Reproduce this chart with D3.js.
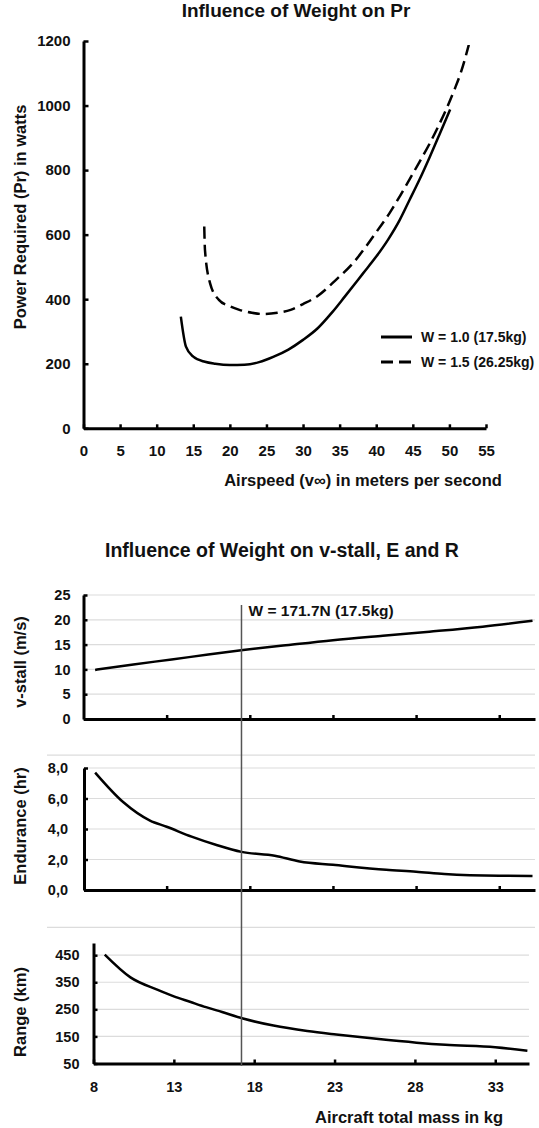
<!DOCTYPE html>
<html>
<head>
<meta charset="utf-8">
<script src="https://cdn.jsdelivr.net/npm/d3@7"></script>
<style>
body { margin: 0; background: #fff; }
svg text { font-family: "Liberation Sans", Arial, sans-serif; font-weight: bold; fill: #111; }
</style>
</head>
<body>
<div id="chart"></div>
<script>
// top chart: power required against airspeed, two weights
var speedLight = [13.3, 14, 15, 16.6, 18, 20, 22, 24, 26, 28, 30, 32, 34, 35.7, 38.2, 40, 41.6, 43.2, 44.5, 45.9, 47.3, 48.6, 50.1];
var powerLight = [346, 253, 222, 206, 200, 196, 197, 205, 222, 244, 274, 310, 360, 408, 480, 532, 584, 645, 705, 770, 840, 908, 988];
var speedHeavy = [16.5, 16.6, 17.3, 18.5, 20, 21.3, 23, 24.6, 26.5, 28.3, 30, 32, 34.5, 36.8, 38.6, 40.2, 41.8, 43.2, 44.5, 45.9, 47.3, 48.4, 49.6, 50.7, 51.6, 52.65];
var powerHeavy = [625, 552, 449, 398, 378, 367, 358, 354, 358, 367, 385, 410, 460, 511, 563, 614, 666, 718, 769, 825, 882, 932, 990, 1050, 1105, 1188];
var speedTicks = [0, 5, 10, 15, 20, 25, 30, 35, 40, 45, 50, 55];
var powerTicks = [0, 200, 400, 600, 800, 1000, 1200];
var legendNames = ["W = 1.0 (17.5kg)", "W = 1.5 (26.25kg)"];

// bottom charts: stall speed, endurance and range against mass
var massStall = [8.7, 11, 13.3, 15.5, 17.6, 20, 23, 26, 28.8, 32, 35];
var stallSpeed = [9.9, 11, 12, 13, 13.9, 14.8, 15.9, 16.8, 17.6, 18.6, 19.8];
var massEndurance = [8.7, 10.4, 12, 13, 14.5, 16, 17.5, 19.5, 21, 23, 26.2, 28, 29.7, 33, 35];
var endurance = [7.7, 5.75, 4.55, 4.15, 3.5, 2.95, 2.5, 2.25, 1.87, 1.65, 1.32, 1.2, 1.05, 0.93, 0.92];
var massRange = [8.7, 10.3, 12, 13, 14, 15, 16, 17.3, 19.2, 21.3, 23.1, 25.6, 28.1, 29.9, 33, 35];
var range = [452, 368, 322, 298, 278, 258, 240, 216, 190, 170, 157, 141, 127, 119, 110, 97];
var massTicks = [8, 13, 18, 23, 28, 33];
var stallTicks = [0, 5, 10, 15, 20, 25];
var enduranceTicks = [0, 2, 4, 6, 8];
var rangeTicks = [50, 150, 250, 350, 450];
var markMass = 17.5;
var markLabel = "W = 171.7N (17.5kg)";

var svg = d3.select("#chart").append("svg").attr("width", 539).attr("height", 1128);
svg.append("rect").attr("width", 539).attr("height", 1128).attr("fill", "#fff");

function styleAxis(g, size) {
    // thick black axis like the excel export
    g.attr("font-family", null).attr("font-size", null);
    g.select(".domain").attr("stroke", "#000").attr("stroke-width", 3);
    g.selectAll(".tick line").attr("stroke", "#000").attr("stroke-width", 2.5);
    g.selectAll(".tick text").style("font-size", size + "px").attr("fill", "#111");
}

function vtitle(text, x, y, size) {
    svg.append("text")
        .attr("transform", "translate(" + x + "," + y + ") rotate(-90)")
        .attr("text-anchor", "middle")
        .attr("dy", "0.35em")
        .style("font-size", size + "px")
        .text(text);
}

function grid(yscale, values, x0, x1) {
    svg.append("g").selectAll("line").data(values).enter().append("line")
        .attr("x1", x0).attr("x2", x1)
        .attr("y1", function(d) { return yscale(d); })
        .attr("y2", function(d) { return yscale(d); })
        .attr("stroke", "#dcdcdc").attr("stroke-width", 1.2);
}

function powerChart() {
    var x = d3.scaleLinear().domain([0, 55]).range([83.5, 486]);
    var y = d3.scaleLinear().domain([0, 1200]).range([428.3, 41]);

    svg.append("text").attr("x", 296).attr("y", 17).attr("text-anchor", "middle")
        .style("font-size", "19px").text("Influence of Weight on Pr");

    var line = d3.line()
        .x(function(d) { return x(d[0]); })
        .y(function(d) { return y(d[1]); })
        .curve(d3.curveMonotoneX);

    svg.append("path").datum(d3.zip(speedLight, powerLight))
        .attr("d", line).attr("fill", "none").attr("stroke", "#000").attr("stroke-width", 2.5);
    svg.append("path").datum(d3.zip(speedHeavy, powerHeavy))
        .attr("d", line).attr("fill", "none").attr("stroke", "#000").attr("stroke-width", 2.5)
        .attr("stroke-dasharray", "12,6");

    var gx = svg.append("g").attr("transform", "translate(0,428.3)")
        .call(d3.axisBottom(x).tickValues(speedTicks).tickSize(-4).tickSizeOuter(0).tickPadding(17));
    styleAxis(gx, 15);
    var gy = svg.append("g").attr("transform", "translate(83.5,0)")
        .call(d3.axisLeft(y).tickValues(powerTicks).tickSize(-5).tickSizeOuter(0).tickPadding(13)
            .tickFormat(d3.format("d")));
    styleAxis(gy, 15);

    svg.append("text").attr("x", 363).attr("y", 486).attr("text-anchor", "middle")
        .style("font-size", "16.5px").text("Airspeed (v\u221e) in meters per second");
    vtitle("Power Required (Pr) in watts", 20, 217, 16.5);

    // legend
    var leg = svg.append("g").selectAll("g").data(legendNames).enter().append("g")
        .attr("transform", function(d, i) { return "translate(381," + (337 + i * 25) + ")"; });
    leg.append("line").attr("x1", 0).attr("x2", 31)
        .attr("stroke", "#000").attr("stroke-width", 3)
        .attr("stroke-dasharray", function(d, i) { return i ? "12,6" : null; });
    leg.append("text").attr("x", 40).attr("dy", "0.35em").style("font-size", "14px")
        .text(function(d) { return d; });
}

function massCharts() {
    var comma = d3.formatLocale({decimal: ",", thousands: ".", grouping: [3], currency: ["", ""]}).format(".1f");
    var xb = d3.scaleLinear().domain([8, 35.15]).range([83.5, 535]);
    var xr = d3.scaleLinear().domain([8, 35.1]).range([93.5, 529]);
    var ys = d3.scaleLinear().domain([0, 25]).range([719, 595]);
    var ye = d3.scaleLinear().domain([0, 8]).range([890, 768]);
    var yr = d3.scaleLinear().domain([50, 495]).range([1063.5, 943]);

    svg.append("text").attr("x", 282).attr("y", 557).attr("text-anchor", "middle")
        .style("font-size", "19.5px").text("Influence of Weight on v-stall, E and R");

    // gridlines
    grid(ys, stallTicks.slice(1), 83.5, 535);
    grid(ye, enduranceTicks.slice(1), 84, 535);
    grid(ye, [8.85], 47, 535);
    grid(yr, rangeTicks.slice(1), 93.5, 529);
    grid(yr, [553], 47, 535);

    function curve(xs, yscale, xv, yv) {
        var line = d3.line()
            .x(function(d) { return xs(d[0]); })
            .y(function(d) { return yscale(d[1]); })
            .curve(d3.curveMonotoneX);
        svg.append("path").datum(d3.zip(xv, yv))
            .attr("d", line).attr("fill", "none").attr("stroke", "#000").attr("stroke-width", 2.5);
    }
    curve(xb, ys, massStall, stallSpeed);
    curve(xb, ye, massEndurance, endurance);
    curve(xr, yr, massRange, range);

    // axes
    var g1x = svg.append("g").attr("transform", "translate(0,719)")
        .call(d3.axisBottom(xb).tickValues(massTicks.slice(1)).tickSize(-4).tickSizeOuter(0).tickFormat(""));
    styleAxis(g1x, 14.5);
    var g1y = svg.append("g").attr("transform", "translate(83.5,0)")
        .call(d3.axisLeft(ys).tickValues(stallTicks).tickSize(-4).tickSizeOuter(0).tickPadding(13));
    styleAxis(g1y, 14.5);

    var g2x = svg.append("g").attr("transform", "translate(0,890)")
        .call(d3.axisBottom(xb).tickValues(massTicks.slice(1)).tickSize(-4).tickSizeOuter(0).tickFormat(""));
    styleAxis(g2x, 14.5);
    var g2y = svg.append("g").attr("transform", "translate(84,0)")
        .call(d3.axisLeft(ye).tickValues(enduranceTicks).tickSize(-4).tickSizeOuter(0).tickPadding(16).tickFormat(comma));
    styleAxis(g2y, 14.5);

    var g3x = svg.append("g").attr("transform", "translate(0,1063.5)")
        .call(d3.axisBottom(xr).tickValues(massTicks).tickSize(-4).tickSizeOuter(0).tickPadding(18));
    styleAxis(g3x, 14.5);
    var g3y = svg.append("g").attr("transform", "translate(93.5,0)")
        .call(d3.axisLeft(yr).tickValues(rangeTicks).tickSize(-4).tickSizeOuter(0).tickPadding(14));
    styleAxis(g3y, 14.5);

    vtitle("v-stall (m/s)", 20, 662, 16.5);
    vtitle("Endurance (hr)", 20, 826, 16.5);
    vtitle("Range (km)", 20, 1012, 16.5);

    // reference weight marker
    svg.append("line").attr("x1", xb(markMass)).attr("x2", xb(markMass))
        .attr("y1", 605).attr("y2", 1066)
        .attr("stroke", "#555").attr("stroke-width", 1.5);
    svg.append("text").attr("x", xb(markMass) + 7).attr("y", 616)
        .style("font-size", "15.5px").text(markLabel);

    svg.append("text").attr("x", 409).attr("y", 1122.5).attr("text-anchor", "middle")
        .style("font-size", "16.5px").text("Aircraft total mass in kg");
}

powerChart();
massCharts();
</script>
</body>
</html>
